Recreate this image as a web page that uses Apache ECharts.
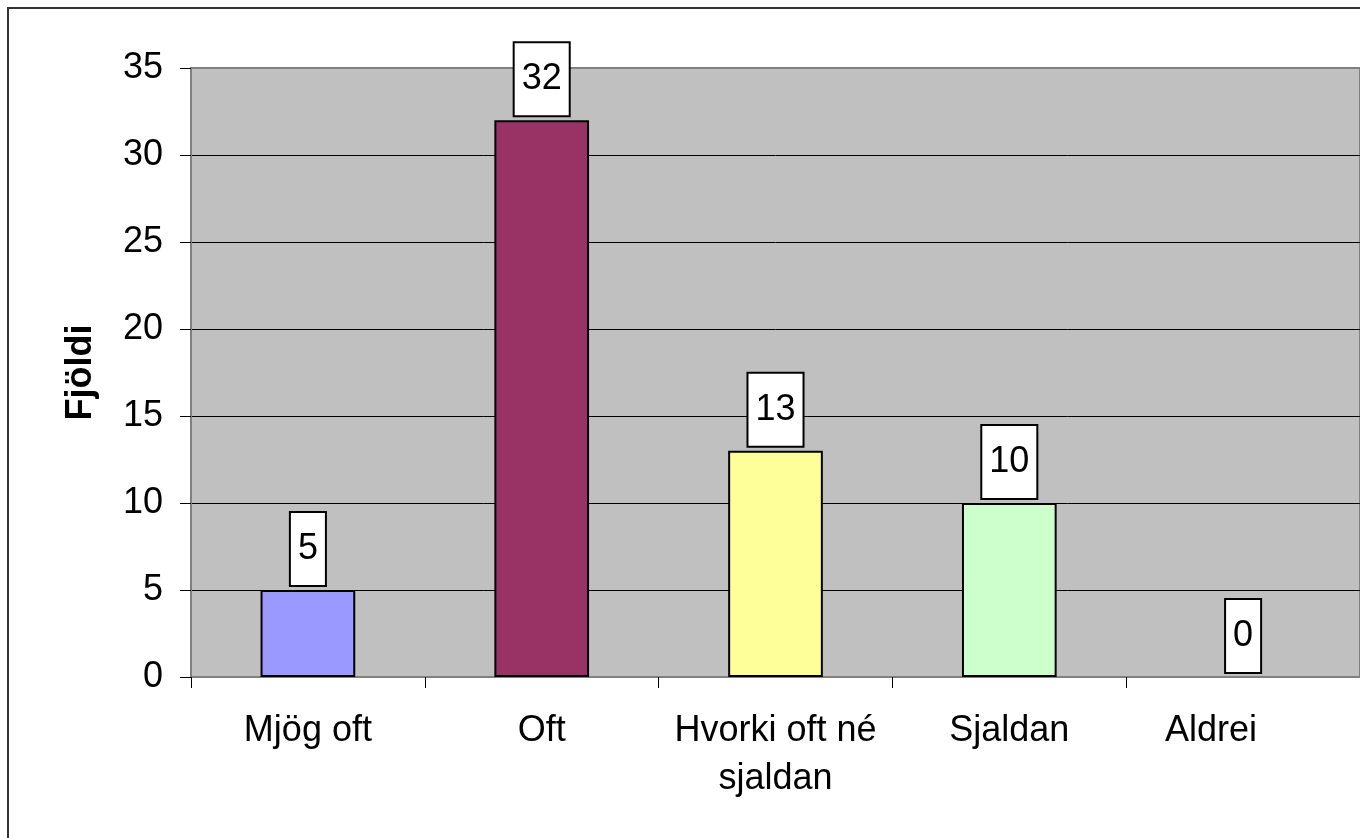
<!DOCTYPE html>
<html>
<head>
<meta charset="utf-8">
<script src="https://cdn.jsdelivr.net/npm/echarts@6/dist/echarts.min.js"></script>
<style>
html,body{margin:0;padding:0;background:#fff;}
#chart{width:1360px;height:838px;}
</style>
</head>
<body>
<div id="chart"></div>
<script>
const categories = ['Mjög oft', 'Oft', 'Hvorki oft né\nsjaldan', 'Sjaldan', 'Aldrei'];
const values = [5, 32, 13, 10, 0];
const barColors = ['#9999FF', '#993366', '#FFFF99', '#CCFFCC', '#FFFFFF'];
const yTicks = { min: 0, max: 35, interval: 5 };
const yName = 'Fjöldi';

const FONT = '"Liberation Sans", Arial, sans-serif';
const chart = echarts.init(document.getElementById('chart'), null, { renderer: 'canvas' });
chart.setOption({
  animation: false,
  backgroundColor: '#ffffff',
  graphic: [{
    type: 'rect',
    shape: { x: 8, y: 8, width: 1400, height: 900 },
    style: { fill: 'none', stroke: '#333333', lineWidth: 2 },
    silent: true, z: -10
  }],
  grid: {
    left: 191, top: 68, bottom: 161, width: 1174,
    show: true, backgroundColor: '#C0C0C0', borderColor: '#808080', borderWidth: 2
  },
  xAxis: {
    type: 'category',
    data: categories.map((c, i) => i === categories.length - 1
      ? { value: c, textStyle: { padding: [0, 64, 0, 0] } }
      : c),
    axisLine: { show: true, lineStyle: { color: '#808080', width: 2 } },
    axisTick: { show: true, length: 11, lineStyle: { color: '#000000', width: 1 } },
    axisLabel: { fontFamily: FONT, fontSize: 36, color: '#000000', margin: 30, lineHeight: 48, interval: 0 }
  },
  yAxis: {
    type: 'value',
    min: yTicks.min, max: yTicks.max, interval: yTicks.interval,
    name: yName,
    nameLocation: 'middle',
    nameRotate: 90,
    nameGap: 92,
    nameTextStyle: { fontFamily: FONT, fontSize: 36, fontWeight: 'bold', color: '#000000' },
    axisLine: { show: true, lineStyle: { color: '#808080', width: 2 } },
    axisTick: { show: true, length: 11, lineStyle: { color: '#000000', width: 1 } },
    axisLabel: { fontFamily: FONT, fontSize: 36, color: '#000000', margin: 28 },
    splitLine: { show: true, showMaxLine: false, lineStyle: { color: '#000000', width: 1 } }
  },
  series: [{
    type: 'bar',
    barWidth: '40.5%',
    data: values.map((v, i) => ({
      value: v,
      itemStyle: { color: barColors[i], borderWidth: v === 0 ? 0 : 2 }
    })),
    itemStyle: { borderColor: '#000000', borderWidth: 2 },
    label: {
      show: true,
      position: 'top',
      distance: 5,
      fontFamily: FONT,
      fontSize: 36,
      lineHeight: 36,
      color: '#000000',
      backgroundColor: '#ffffff',
      borderColor: '#000000',
      borderWidth: 2,
      padding: [18, 7, 18, 7]
    }
  }]
});
</script>
</body>
</html>
